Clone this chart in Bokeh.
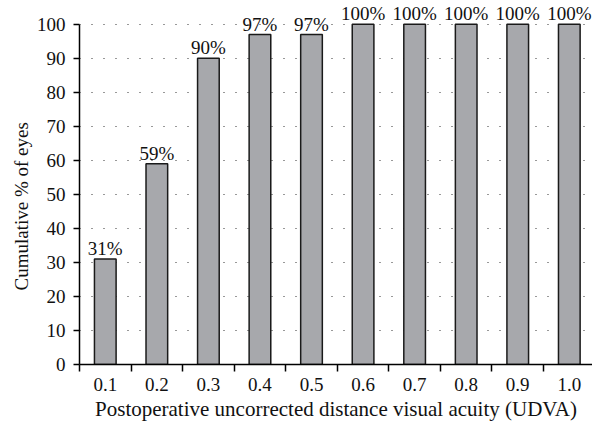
from bokeh.plotting import figure
from bokeh.models import FixedTicker, ColumnDataSource, LabelSet, Range1d, Title
from bokeh.embed import file_html
from bokeh.resources import INLINE

categories = ["0.1", "0.2", "0.3", "0.4", "0.5", "0.6", "0.7", "0.8", "0.9", "1.0"]
values = [31, 59, 90, 97, 97, 100, 100, 100, 100, 100]
labels = ["31%", "59%", "90%", "97%", "97%", "100%", "100%", "100%", "100%", "100%"]

FONT = "Liberation Serif"
xs = list(range(1, len(categories) + 1))
src = ColumnDataSource(dict(x=xs, top=values, label=labels))

p = figure(width=592, height=424, output_backend="svg", toolbar_location=None,
           x_range=Range1d(0.5, 10.45), y_range=Range1d(0, 107),
           min_border_left=79, min_border_right=0, min_border_top=0, min_border_bottom=60)
p.outline_line_color = None
p.background_fill_color = "white"

p.vbar(x="x", top="top", width=0.42, bottom=0, source=src,
       fill_color="#a7a8ac", line_color="#1a1a1a", line_width=1.5)

lbl = LabelSet(x="x", y="top", text="label", source=src, text_align="center",
               text_baseline="bottom", y_offset=0, text_font=FONT,
               text_font_size="19px", text_color="#111111")
p.add_layout(lbl)

# x axis
p.xaxis.ticker = FixedTicker(ticks=xs, minor_ticks=[i + 0.5 for i in range(0, 11)])
p.xaxis.major_label_overrides = {x: c for x, c in zip(xs, categories)}
p.xaxis.major_tick_out = 0
p.xaxis.major_tick_in = 0
p.xaxis.minor_tick_out = 7
p.xaxis.minor_tick_in = 0
p.xaxis.minor_tick_line_color = "black"
p.xaxis.minor_tick_line_width = 1.5
p.xaxis.axis_line_color = "black"
p.xaxis.axis_line_width = 1.5
p.xaxis.major_label_standoff = 6
p.xaxis.axis_label = "Postoperative uncorrected distance visual acuity (UDVA)"
p.xaxis.axis_label_standoff = 3

# y axis
p.yaxis.ticker = FixedTicker(ticks=list(range(0, 101, 10)))
p.yaxis.bounds = (0, 100)
p.yaxis.major_tick_out = 6
p.yaxis.major_tick_in = 0
p.yaxis.minor_tick_out = 0
p.yaxis.minor_tick_in = 0
p.yaxis.major_tick_line_width = 1.5
p.yaxis.axis_line_width = 1.5
p.yaxis.axis_line_color = "black"
p.yaxis.major_label_standoff = 8

for ax in (p.xaxis[0], p.yaxis[0]):
    ax.major_label_text_font = FONT
    ax.major_label_text_font_size = "19px"
    ax.major_label_text_color = "#111111"
    ax.axis_label_text_font = FONT
    ax.axis_label_text_font_size = "21px"
    ax.axis_label_text_font_style = "normal"
    ax.axis_label_text_color = "#111111"

ylab = Title(text="Cumulative % of eyes", align="left", offset=74, standoff=4,
             text_font=FONT, text_font_size="19px", text_font_style="normal",
             text_color="#111111")
p.add_layout(ylab, "left")

p.xgrid.grid_line_color = None
p.ygrid.ticker = FixedTicker(ticks=list(range(10, 101, 10)))
p.ygrid.grid_line_color = "#333333"
p.ygrid.grid_line_dash = "1 11"
p.ygrid.grid_line_width = 1.2

open("out.html", "w").write(file_html(p, INLINE))
